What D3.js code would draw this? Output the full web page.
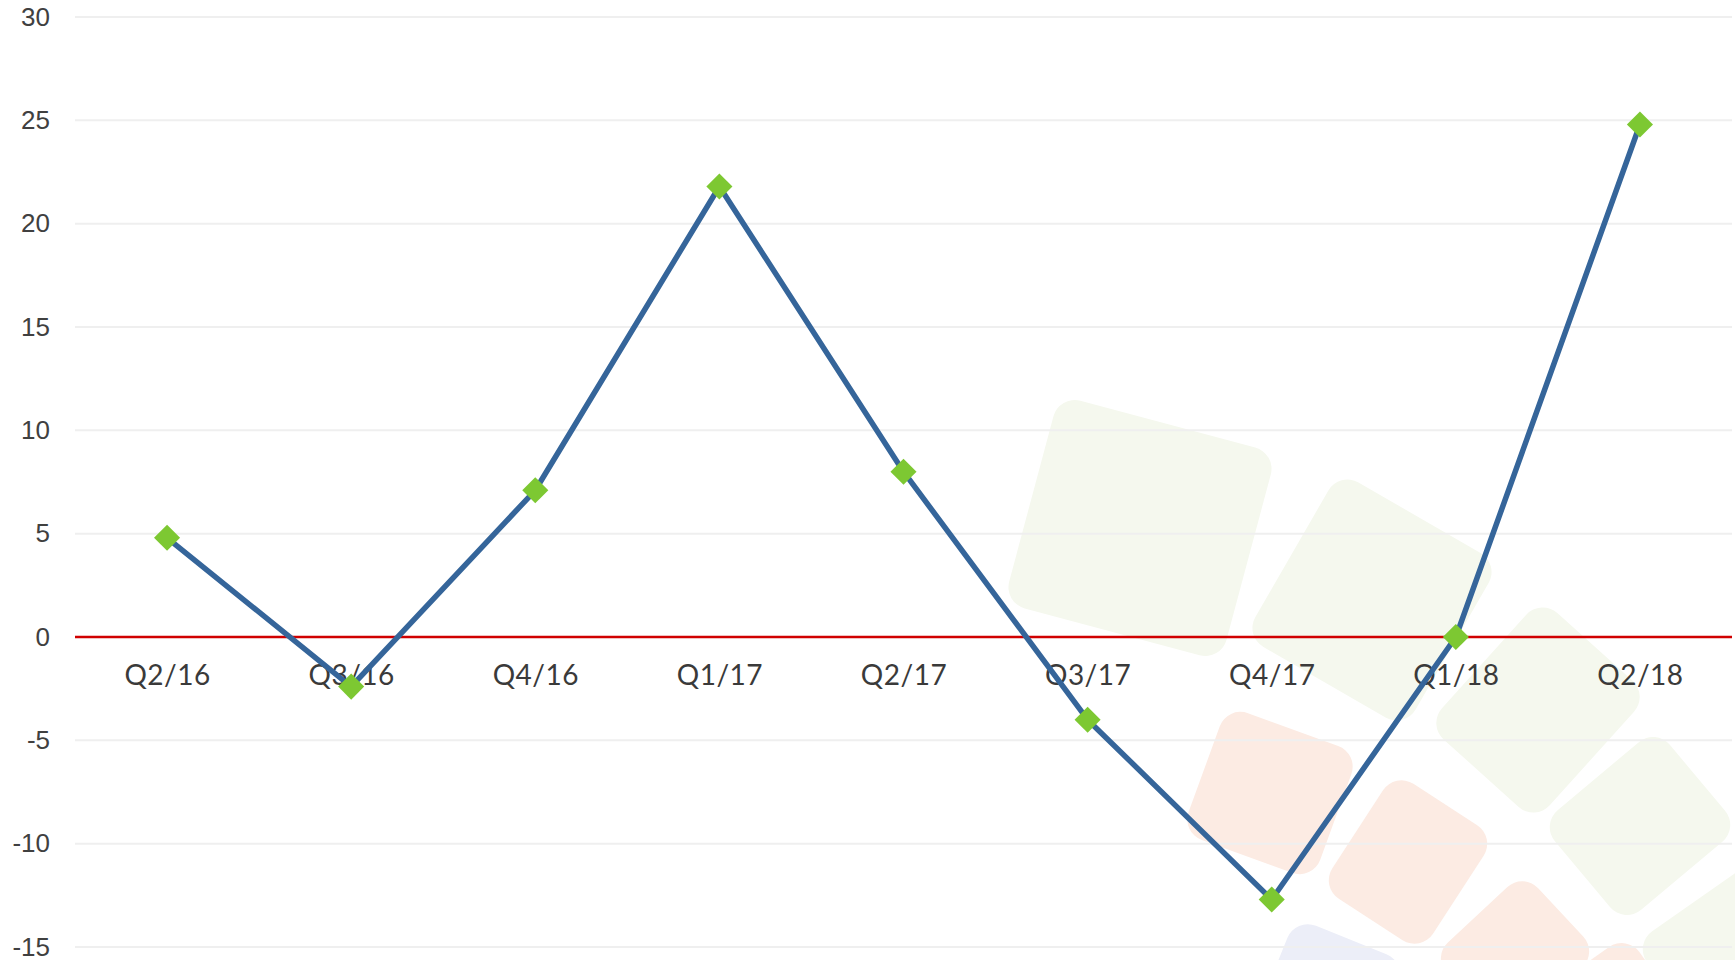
<!DOCTYPE html>
<html><head><meta charset="utf-8">
<script src="https://cdn.jsdelivr.net/npm/d3@7"></script>
<style>html,body{margin:0;padding:0;background:#fff;}svg{display:block}</style>
</head><body>
<svg id="chart" width="1735" height="960"></svg>
<script>
const categories = ["Q2/16","Q3/16","Q4/16","Q1/17","Q2/17","Q3/17","Q4/17","Q1/18","Q2/18"];
const values = [4.8, -2.4, 7.1, 21.8, 8.0, -4.0, -12.7, 0.0, 24.8];
const yTicks = [-15, -10, -5, 0, 5, 10, 15, 20, 25, 30];

// decorative background logo (pale rounded tiles)
const logoTiles = [
  {cx:1140, cy:528, w:225, h:215, a:15, c:"#f5f8ee"},
  {cx:1372, cy:600, w:185, h:190, a:30, c:"#f5f8ee"},
  {cx:1538, cy:710, w:145, h:170, a:42, c:"#f5f8ee"},
  {cx:1640, cy:826, w:130, h:150, a:50, c:"#f5f8ee"},
  {cx:1730, cy:950, w:120, h:150, a:55, c:"#f5f8ee"},
  {cx:1270, cy:793, w:140, h:135, a:20, c:"#fcebe3"},
  {cx:1408, cy:862, w:120, h:137, a:33, c:"#fcebe3"},
  {cx:1515, cy:955, w:110, h:125, a:47, c:"#fcebe3"},
  {cx:1612, cy:1000, w:90, h:100, a:55, c:"#fcebe3"},
  {cx:1325, cy:1005, w:120, h:140, a:22, c:"#eceef8"}
];

const svg = d3.select("#chart");
const x = d3.scalePoint().domain(categories).range([75, 1732]).padding(0.5);
const y = d3.scaleLinear().domain([-15, 30]).range([947, 17]);

svg.append("g").selectAll("rect").data(logoTiles).join("rect")
  .attr("x", d => -d.w/2).attr("y", d => -d.h/2)
  .attr("width", d => d.w).attr("height", d => d.h)
  .attr("rx", 22).attr("ry", 22)
  .attr("fill", d => d.c)
  .attr("transform", d => `translate(${d.cx},${d.cy}) rotate(${d.a})`);

// gridlines
svg.append("g").selectAll("line").data(yTicks.filter(t => t !== 0)).join("line")
  .attr("x1", 75).attr("x2", 1732)
  .attr("y1", d => y(d)).attr("y2", d => y(d))
  .attr("stroke", "#efefef").attr("stroke-width", 2);

// y axis labels
const yAxis = d3.axisLeft(y).tickValues(yTicks).tickSize(0).tickPadding(0).tickFormat(d => String(d));
const gy = svg.append("g").attr("transform", "translate(50,0)").call(yAxis);
gy.select(".domain").remove();
gy.selectAll("text").attr("font-family", "'Liberation Sans', Arial, sans-serif")
  .attr("font-size", 26).attr("fill", "#404040");

// zero line
svg.append("line").attr("x1", 75).attr("x2", 1732)
  .attr("y1", y(0)).attr("y2", y(0))
  .attr("stroke", "#d00000").attr("stroke-width", 2.5);

// x axis labels
const xAxis = d3.axisBottom(x).tickSize(0).tickPadding(0);
const gx = svg.append("g").attr("transform", `translate(0,${y(0)})`).call(xAxis);
gx.select(".domain").remove();
gx.selectAll("text").attr("font-family", "Lato, 'Noto Sans', sans-serif")
  .attr("font-size", 28).attr("fill", "#3a3a3a").attr("dy", null).attr("y", 48)
  .attr("letter-spacing", 0.5);

// line
const line = d3.line().x((d, i) => x(categories[i])).y(d => y(d));
svg.append("path").datum(values).attr("d", line)
  .attr("fill", "none").attr("stroke", "#35659a").attr("stroke-width", 5.5)
  .attr("stroke-linejoin", "round");

// markers
svg.append("g").selectAll("path").data(values).join("path")
  .attr("d", d3.symbol(d3.symbolSquare, 340)())
  .attr("transform", (d, i) => `translate(${x(categories[i])},${y(d)}) rotate(45)`)
  .attr("fill", "#7dc832");
</script>
</body></html>
